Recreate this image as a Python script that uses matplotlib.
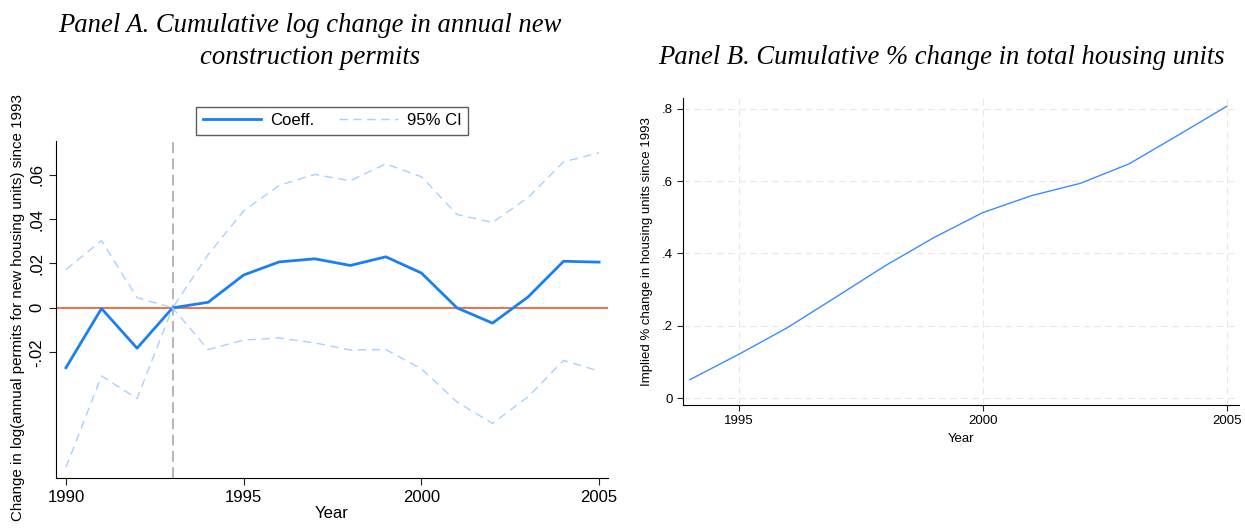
import numpy as np
import matplotlib
matplotlib.use("Agg")
import matplotlib.pyplot as plt

# Panel A data
years_a = [1990, 1991, 1992, 1993, 1994, 1995, 1996, 1997, 1998, 1999, 2000, 2001, 2002, 2003, 2004, 2005]
coeff = [-0.0270, -0.0003, -0.0182, 0.0, 0.0025, 0.0148, 0.0207, 0.0221, 0.0191, 0.0230, 0.0157, 0.0, -0.0069, 0.0049, 0.0210, 0.0206]
ci_upper = [0.0173, 0.0303, 0.0046, 0.0, 0.0240, 0.0437, 0.0552, 0.0601, 0.0573, 0.0649, 0.0591, 0.0421, 0.0385, 0.0497, 0.0658, 0.0699]
ci_lower = [-0.0719, -0.0307, -0.0409, 0.0, -0.0188, -0.0145, -0.0136, -0.0158, -0.0190, -0.0188, -0.0275, -0.0424, -0.0521, -0.0401, -0.0237, -0.0285]

# Panel B data
years_b = [1994, 1995, 1996, 1997, 1998, 1999, 2000, 2001, 2002, 2003, 2004, 2005]
housing = [0.051, 0.121, 0.195, 0.280, 0.366, 0.444, 0.513, 0.560, 0.594, 0.648, 0.727, 0.807]

plt.rcParams["font.family"] = ["Liberation Sans", "DejaVu Sans"]
title_font = {"family": ["Liberation Serif", "DejaVu Serif"], "style": "italic", "size": 19.2}

W, H = 1245, 531
fig = plt.figure(figsize=(W / 100, H / 100), dpi=100)

def box(l, r, t, b):
    return [l / W, 1 - b / H, (r - l) / W, (b - t) / H]

# ---- Panel A ----
ax1 = fig.add_axes(box(56, 608, 141, 478))
ax1.plot(years_a, coeff, color="#1a7ff5", lw=2, label="Coeff.")
ax1.plot(years_a, ci_upper, color="#a9d1ff", lw=1, ls=(0, (6, 4)), label="95% CI")
ax1.plot(years_a, ci_lower, color="#a9d1ff", lw=1, ls=(0, (6, 4)))
ax1.axhline(0, color="#f0643c", lw=1.3, zorder=1)
ax1.axvline(1993, color="#b0b0b0", lw=1.3, ls=(0, (6, 3)), zorder=1)
ax1.set_xlim(1989.72, 2005.25)
ax1.set_ylim(-0.0767, 0.0752)
ax1.set_xticks([1990, 1995, 2000, 2005])
ax1.set_yticks([-0.02, 0, 0.02, 0.04, 0.06])
ax1.set_yticklabels(["-.02", "0", ".02", ".04", ".06"], rotation=90, va="center")
ax1.tick_params(labelsize=12, length=5, width=0.8, color="#222222")
for s in ["top", "right"]:
    ax1.spines[s].set_visible(False)
ax1.set_xlabel("Year", fontsize=12, labelpad=1)
ax1.set_ylabel("Change in log(annual permits for new housing units) since 1993", fontsize=10.9, va="center")
ax1.yaxis.set_label_coords(-0.069, 0.505)
leg = ax1.legend(loc="lower center", bbox_to_anchor=(0.5, 1.018), ncol=2, fontsize=12,
                 frameon=True, fancybox=False, edgecolor="#333333", columnspacing=1.5,
                 handlelength=3.5, handletextpad=0.55, borderpad=0.4, borderaxespad=0)
leg.get_frame().set_linewidth(1)
fig.text(310 / W, 1 - 25 / H, "Panel A. Cumulative log change in annual new", ha="center", va="center", fontdict=title_font)
fig.text(310 / W, 1 - 57 / H, "construction permits", ha="center", va="center", fontdict=title_font)

# ---- Panel B ----
ax2 = fig.add_axes(box(683, 1239, 98, 405))
ax2.plot(years_b, housing, color="#3a8cff", lw=1)
ax2.set_xlim(1993.86, 2005.25)
ax2.set_ylim(-0.019, 0.83)
ax2.set_xticks([1995, 2000, 2005])
ax2.set_yticks([0, 0.2, 0.4, 0.6, 0.8])
ax2.set_yticklabels(["0", ".2", ".4", ".6", ".8"])
ax2.tick_params(labelsize=9.5, length=4, width=0.8, color="#222222")
ax2.grid(True, color="#e8e8e8", ls=(0, (6, 4)), lw=0.8)
ax2.set_axisbelow(True)
for s in ["top", "right"]:
    ax2.spines[s].set_visible(False)
ax2.set_xlabel("Year", fontsize=9.5, labelpad=4)
ax2.set_ylabel("Implied % change in housing units since 1993", fontsize=9.5, labelpad=6)
fig.text(941 / W, 1 - 57 / H, "Panel B. Cumulative % change in total housing units", ha="center", va="center", fontdict=title_font)

fig.savefig("out.png", dpi=100)
